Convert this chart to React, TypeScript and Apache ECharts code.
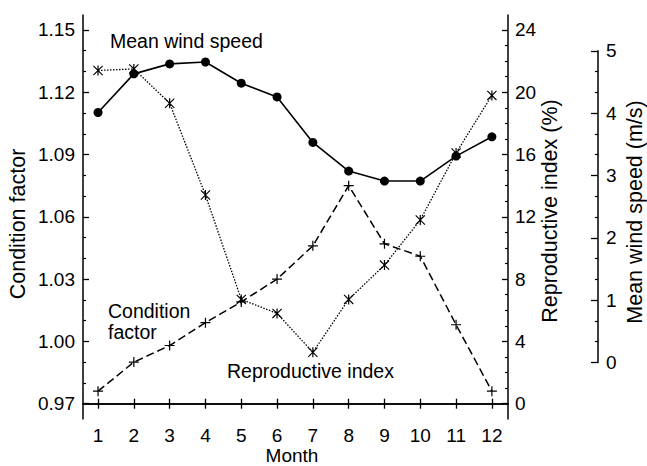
import React, { useEffect, useRef } from "react";
import * as echarts from "echarts";

const months = [1, 2, 3, 4, 5, 6, 7, 8, 9, 10, 11, 12];
const conditionFactor = [0.976, 0.99, 0.998, 1.009, 1.019, 1.03, 1.046, 1.075, 1.047, 1.041, 1.008, 0.976];
const reproductiveIndex = [21.4, 21.5, 19.3, 13.4, 6.7, 5.8, 3.3, 6.7, 8.9, 11.8, 16.1, 19.8];
const windSpeed = [4.01, 4.63, 4.79, 4.82, 4.48, 4.26, 3.53, 3.07, 2.91, 2.91, 3.31, 3.62];
const conditionTicks = [0.97, 1.0, 1.03, 1.06, 1.09, 1.12, 1.15];
const reproductiveTicks = [0, 4, 8, 12, 16, 20, 24];
const windTicks = [0, 1, 2, 3, 4, 5];

function minorOf(ticks: number[], parts: number): number[] {
  const out: number[] = [];
  for (let i = 0; i < ticks.length - 1; i++) {
    const a = ticks[i], b = ticks[i + 1];
    for (let k = 1; k < parts; k++) out.push(a + ((b - a) * k) / parts);
  }
  return out;
}

const FONT = "Liberation Sans, Arial, Helvetica, sans-serif";
const BLACK = "#000";

const PLUS = "path://M4.4,0H5.6V10H4.4Z M0,4.4H10V5.6H0Z";
const STAR = "path://M0.8,0L10,9.2L9.2,10L0,0.8Z M9.2,0L10,0.8L0.8,10L0,9.2Z M4.4,0H5.6V10H4.4Z";

export default function App() {
  const ref = useRef<HTMLDivElement>(null);
  useEffect(() => {
    document.body.style.margin = "0";
    const chart = echarts.init(ref.current!, null, { renderer: "svg" });
    const xMin = 0.58, xMax = 12.45;
    const line = { show: true, lineStyle: { color: BLACK, width: 1.5 } };
    const label = { color: BLACK, fontSize: 19, fontFamily: FONT };
    const option: any = {
      animation: false,
      backgroundColor: "#fff",
      grid: [
        { left: 83, top: 15, width: 425, height: 404 },
        { left: 83, top: 50.8, width: 425, height: 311.6 },
      ],
      xAxis: [
        {
          type: "value", gridIndex: 0, position: "bottom", min: xMin, max: xMax,
          axisLine: line, splitLine: { show: false },
          axisTick: { show: true, inside: true, length: 5, customValues: months, lineStyle: { color: BLACK, width: 1.3 } },
          axisLabel: { ...label, margin: 7, customValues: months },
        },
        {
          type: "value", gridIndex: 0, position: "top", min: xMin, max: xMax,
          axisLine: line, splitLine: { show: false },
          axisTick: { show: true, inside: true, length: 5, customValues: months, lineStyle: { color: BLACK, width: 1.3 } },
          axisLabel: { show: false },
        },
        { type: "value", gridIndex: 1, min: xMin, max: xMax, show: false },
      ],
      yAxis: [
        {
          type: "value", gridIndex: 0, position: "left", min: 0.9626, max: 1.1572,
          axisLine: line, splitLine: { show: false },
          axisTick: { show: true, inside: true, length: 6, customValues: conditionTicks, lineStyle: { color: BLACK, width: 1.3 } },
          axisLabel: { ...label, margin: 8, customValues: conditionTicks, formatter: (v: number) => v.toFixed(2) },
        },
        {
          type: "value", gridIndex: 0, position: "right", min: -0.982, max: 24.963,
          axisLine: line, splitLine: { show: false },
          axisTick: { show: true, inside: true, length: 6, customValues: reproductiveTicks, lineStyle: { color: BLACK, width: 1.3 } },
          axisLabel: { ...label, margin: 7, customValues: reproductiveTicks },
        },
        {
          type: "value", gridIndex: 0, position: "left", min: 0.9626, max: 1.1572,
          axisLine: { show: false }, splitLine: { show: false },
          axisTick: { show: true, inside: true, length: 3, customValues: minorOf(conditionTicks, 3), lineStyle: { color: BLACK, width: 1.2 } },
          axisLabel: { show: false },
        },
        {
          type: "value", gridIndex: 0, position: "right", min: -0.982, max: 24.963,
          axisLine: { show: false }, splitLine: { show: false },
          axisTick: { show: true, inside: true, length: 3, customValues: minorOf(reproductiveTicks, 4), lineStyle: { color: BLACK, width: 1.2 } },
          axisLabel: { show: false },
        },
        {
          type: "value", gridIndex: 1, position: "right", offset: 90, min: 0, max: 5,
          axisLine: line, splitLine: { show: false },
          axisTick: { show: true, inside: true, length: 7, customValues: windTicks, lineStyle: { color: BLACK, width: 1.3 } },
          axisLabel: { ...label, margin: 8, customValues: windTicks },
        },
        {
          type: "value", gridIndex: 1, position: "right", offset: 90, min: 0, max: 5,
          axisLine: { show: false }, splitLine: { show: false },
          axisTick: { show: true, inside: true, length: 3, customValues: minorOf(windTicks, 3), lineStyle: { color: BLACK, width: 1.2 } },
          axisLabel: { show: false },
        },
      ],
      series: [
        {
          name: "Mean wind speed", type: "line", xAxisIndex: 2, yAxisIndex: 4,
          data: months.map((m, i) => [m, windSpeed[i]]),
          symbol: "circle", symbolSize: 9,
          itemStyle: { color: BLACK },
          lineStyle: { color: BLACK, width: 1.6, type: "solid" },
        },
        {
          name: "Condition factor", type: "line", xAxisIndex: 0, yAxisIndex: 0,
          data: months.map((m, i) => [m, conditionFactor[i]]),
          symbol: PLUS, symbolSize: 10,
          itemStyle: { color: BLACK },
          lineStyle: { color: BLACK, width: 1.5, type: [8, 4] },
        },
        {
          name: "Reproductive index", type: "line", xAxisIndex: 0, yAxisIndex: 1,
          data: months.map((m, i) => [m, reproductiveIndex[i]]),
          symbol: STAR, symbolSize: 10,
          itemStyle: { color: BLACK },
          lineStyle: { color: BLACK, width: 1.3, type: [1.5, 1.5] },
        },
      ],
      graphic: [
        { type: "text", left: 110, top: 31, style: { text: "Mean wind speed", fontSize: 19.5, fontFamily: FONT, fill: BLACK } },
        { type: "text", left: 108, top: 300, style: { text: "Condition\nfactor", fontSize: 19.5, lineHeight: 21, fontFamily: FONT, fill: BLACK } },
        { type: "text", left: 227, top: 361, style: { text: "Reproductive index", fontSize: 19.5, fontFamily: FONT, fill: BLACK } },
        { type: "text", x: 292, y: 455, style: { text: "Month", fontSize: 19, fontFamily: FONT, fill: BLACK, textAlign: "center", textVerticalAlign: "middle" } },
        { type: "text", x: 18, y: 224, rotation: Math.PI / 2, style: { text: "Condition factor", fontSize: 21.5, fontFamily: FONT, fill: BLACK, textAlign: "center", textVerticalAlign: "middle" } },
        { type: "text", x: 550, y: 211, rotation: Math.PI / 2, style: { text: "Reproductive index (%)", fontSize: 21.5, fontFamily: FONT, fill: BLACK, textAlign: "center", textVerticalAlign: "middle" } },
        { type: "text", x: 635, y: 212, rotation: Math.PI / 2, style: { text: "Mean wind speed (m/s)", fontSize: 21.5, fontFamily: FONT, fill: BLACK, textAlign: "center", textVerticalAlign: "middle" } },
      ],
    };
    chart.setOption(option);
    return () => chart.dispose();
  }, []);
  return <div ref={ref} style={{ width: 647, height: 466 }} />;
}
